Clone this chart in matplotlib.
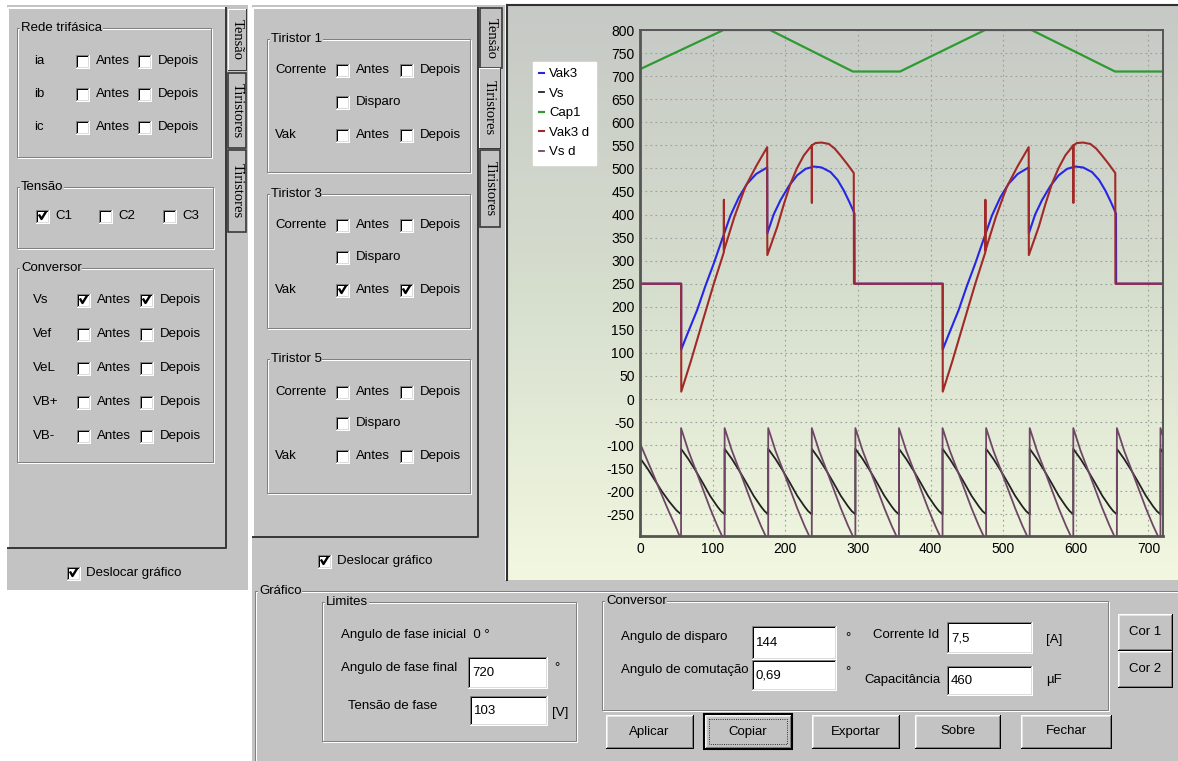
import numpy as np
import matplotlib
matplotlib.use("Agg")
import matplotlib.pyplot as plt
from matplotlib.patches import Rectangle

plt.rcParams['font.family'] = ['Liberation Sans Narrow', 'Liberation Sans', 'DejaVu Sans']
plt.rcParams['axes.unicode_minus'] = False

# ---------------- chart data (angles in degrees, values in V) ----------------
# Cap1 (green)
cap1_ang = [0, 115, 179, 293, 358, 475, 539, 654, 720]
cap1_val = [715, 800, 800, 710, 710, 800, 800, 710, 710]

# one 360 deg cycle of Vak3 (blue) and Vak3 d (red), repeated at cycle_starts
cycle_starts = [0, 360]
vak3_ang = [0, 56.7, 56.7, 65, 78.7, 90, 101.6, 113, 124.6, 136, 147.6, 160, 175.1,
            175.3, 184, 193.4, 205, 216.4, 228, 239.3, 250, 262.3, 272, 280.6, 288,
            295.3, 295.5, 360]
vak3_val = [250, 250, 107, 140, 193, 245, 294, 346, 398, 437, 467, 488, 502,
            359, 400, 431, 462, 485, 499, 504, 502, 492, 475, 452, 428,
            402, 250, 250]
vak3d_ang = [0, 56.7, 56.8, 70, 85, 101.6, 115.4, 115.5, 115.6, 130, 145, 160, 175.1,
             175.3, 182, 188.9, 198, 207.2, 216, 225.5, 236.5, 236.6, 236.7, 241.6, 250,
             260, 268, 276, 285, 294.3, 294.5, 360]
vak3d_val = [250, 250, 16, 82, 162, 250, 318, 432, 322, 395, 460, 505, 546,
             312, 342, 373, 422, 467, 500, 528, 550, 425, 550, 555, 556,
             553, 543, 528, 510, 490, 250, 250]

# Vs / Vs d sawtooth: first partial segment, then one 60 deg profile per reset
first_ang = [0, 10, 20, 30, 40, 50, 56.5]
vs_first = [-128, -150, -175, -200, -222, -241, -250]
vsd_first = [-96, -133, -170, -208, -245, -280, -305]
reset_angles = [56.5, 116.5, 176.5, 236.5, 296.5, 356.5, 416.5, 476.5, 536.5,
                596.5, 656.5, 716.5]
saw_offset = [0, 10, 20, 30, 40, 50, 55, 60]
vs_profile = [-108, -130, -155, -182, -210, -233, -243, -250]
vsd_profile = [-63, -112, -153, -195, -237, -275, -292, -310]

y_ticks = list(range(-250, 801, 50))
x_ticks = [0, 100, 200, 300, 400, 500, 600, 700]


def tile(starts, ang, val):
    xs, ys = [], []
    for s in starts:
        xs += [s + a for a in ang]
        ys += list(val)
    return xs, ys


vak3_x, vak3_y = tile(cycle_starts, vak3_ang, vak3_val)
vak3d_x, vak3d_y = tile(cycle_starts, vak3d_ang, vak3d_val)
vs_x, vs_y = tile(reset_angles, saw_offset, vs_profile)
vsd_x, vsd_y = tile(reset_angles, saw_offset, vsd_profile)
vs_x = first_ang + vs_x
vs_y = vs_first + vs_y
vsd_x = first_ang + vsd_x
vsd_y = vsd_first + vsd_y

# ---------------- window drawing helpers (pixel coordinates) ----------------
W, H = 1178, 761
GRAY = '#c3c3c3'
DARK = '#808080'
SHADOW = '#3a3a3a'
PX = 0.72
FS = 9.5

fig = plt.figure(figsize=(W / 100, H / 100), dpi=100)
fig.patch.set_facecolor('white')
ui = fig.add_axes([0, 0, 1, 1])


def rect(x0, y0, x1, y1, fc, ec='none', lw=0, z=1, **kw):
    ui.add_patch(Rectangle((x0, y0), x1 - x0, y1 - y0, facecolor=fc, edgecolor=ec,
                           linewidth=lw, zorder=z, **kw))


def edge3d(x0, y0, x1, y1, tl, br, z=3, lw=1):
    ui.plot([x0, x0, x1], [y1, y0, y0], color=tl, lw=lw * PX, zorder=z)
    ui.plot([x0, x1, x1], [y1, y1, y0], color=br, lw=lw * PX, zorder=z)


def text(x, y, s, size=FS, ha='left', **kw):
    ui.text(x, y, s, fontsize=size, ha=ha, va='center', zorder=6, **kw)


def group(x0, y0, x1, y1, title):
    rect(x0 + 1, y0 + 1, x1 + 1, y1 + 1, 'none', ec='white', lw=PX, z=1.9)
    rect(x0, y0, x1, y1, 'none', ec=DARK, lw=PX, z=2)
    ui.text(x0 + 4, y0, title, fontsize=FS, ha='left', va='center', zorder=4,
            bbox=dict(fc=GRAY, ec='none', pad=0.4))


def checkbox(x, y, on=False):
    rect(x, y - 6.5, x + 13, y + 6.5, 'white', z=3)
    edge3d(x, y - 6.5, x + 13, y + 6.5, DARK, 'white', z=4)
    edge3d(x + 1, y - 5.5, x + 12, y + 5.5, 'black', '#dcdcdc', z=4)
    if on:
        ui.plot([x + 3.5, x + 5.5, x + 9.5], [y - 0.5, y + 3, y - 3.5],
                color='black', lw=1.7, zorder=5)


def antes_depois(y, xa, xd, on_a=False, on_d=False):
    checkbox(xa, y, on_a)
    text(xa + 20, y, 'Antes')
    checkbox(xd, y, on_d)
    text(xd + 20, y, 'Depois')


def entry(x0, y0, x1, y1, val):
    rect(x0, y0, x1, y1, 'white', z=3)
    edge3d(x0, y0, x1, y1, DARK, 'white', z=4)
    edge3d(x0 + 1, y0 + 1, x1 - 1, y1 - 1, 'black', '#dcdcdc', z=4)
    text(x0 + 4, (y0 + y1) / 2 + 1, val)


def button(x0, y0, x1, y1, label, focus=False):
    rect(x0, y0, x1, y1, GRAY, z=3)
    edge3d(x0, y0, x1, y1, 'white', 'black', z=4)
    edge3d(x0 + 1, y0 + 1, x1 - 1, y1 - 1, '#e4e4e4', DARK, z=4)
    if focus:
        rect(x0 - 1, y0 - 1, x1 + 1, y1 + 1, 'none', ec='black', lw=1.5, z=5)
        rect(x0 + 4, y0 + 4, x1 - 4, y1 - 4, 'none', ec='black', lw=0.6, z=5, ls=':')
    text((x0 + x1) / 2, (y0 + y1) / 2, label, ha='center')


def vtab(x0, y0, x1, y1, label, active=False):
    rect(x0, y0, x1, y1, GRAY, z=3)
    if active:
        edge3d(x0, y0, x1, y1, 'white', SHADOW, z=4)
    else:
        rect(x0, y0, x1, y1, 'none', ec=SHADOW, lw=1.2, z=4)
    ui.text((x0 + x1) / 2, (y0 + y1) / 2, label, rotation=-90, fontsize=10.5,
            family=['Liberation Serif', 'DejaVu Serif'], ha='center', va='center', zorder=6)


# ---------------- panels ----------------
# chart panel gradient
top_c = np.array([198, 201, 197]) / 255
mid_c = np.array([214, 222, 206]) / 255
bot_c = np.array([242, 248, 224]) / 255
t = np.linspace(0, 1, 200)[:, None]
grad = np.where(t < 0.5, top_c + (mid_c - top_c) * (t / 0.5),
                mid_c + (bot_c - mid_c) * ((t - 0.5) / 0.5))
ui.imshow(grad[:, None, :], extent=(507, W, 580, 5), aspect='auto', zorder=0.5)
ui.plot([507, W], [5, 5], color='#303030', lw=1.5, zorder=1)
ui.plot([507, 507], [5, 580], color='#303030', lw=1.5, zorder=1)

# left panel
rect(7, 5, 248, 590, GRAY, z=0.6)
edge3d(8, 8, 226, 548, 'white', SHADOW, z=1, lw=2)
vtab(228, 9, 246, 70, 'Tensão', active=True)
vtab(228, 73, 246, 148, 'Tiristores')
vtab(228, 150, 246, 232, 'Tiristores')

group(17, 28, 211, 157, 'Rede trifásica')
for lbl, y in zip(['ia', 'ib', 'ic'], [61, 94, 127]):
    text(34, y, lbl)
    antes_depois(y, 76, 138)

group(17, 187, 213, 248, 'Tensão')
for (x, lbl, on) in [(36, 'C1', True), (99, 'C2', False), (163, 'C3', False)]:
    checkbox(x, 216, on)
    text(x + 19, 216, lbl)

group(17, 268, 213, 462, 'Conversor')
for i, (lbl, y) in enumerate(zip(['Vs', 'Vef', 'VeL', 'VB+', 'VB-'], [300, 334, 368, 402, 436])):
    text(33, y, lbl)
    antes_depois(y, 77, 140, on_a=(i == 0), on_d=(i == 0))

checkbox(67, 573, True)
text(86, 573, 'Deslocar gráfico')

# middle panel
rect(252, 5, 505, 582, GRAY, z=0.6)
edge3d(253, 8, 478, 537, 'white', SHADOW, z=1, lw=2)
vtab(480, 8, 502, 68, 'Tensão')
vtab(479, 68, 500, 148, 'Tiristores', active=True)
vtab(480, 150, 500, 227, 'Tiristores')

for title, y0, y1, rows, on_vak in [('Tiristor 1', 39, 172, [70, 102, 135], False),
                                    ('Tiristor 3', 194, 328, [225, 257, 290], True),
                                    ('Tiristor 5', 359, 493, [392, 423, 456], False)]:
    group(267, y0, 470, y1, title)
    text(275, rows[0], 'Corrente')
    antes_depois(rows[0], 336, 400)
    checkbox(336, rows[1])
    text(356, rows[1], 'Disparo')
    text(275, rows[2], 'Vak')
    antes_depois(rows[2], 336, 400, on_vak, on_vak)

checkbox(318, 561, True)
text(337, 561, 'Deslocar gráfico')

# bottom panel
rect(252, 580, W, H, GRAY, z=0.6)
group(255, 591, W + 5, H + 5, 'Gráfico')

group(322, 602, 576, 741, 'Limites')
text(341, 635, 'Angulo de fase inicial  0 °')
text(341, 668, 'Angulo de fase final')
entry(468, 657, 547, 688, '720')
text(554, 668, '°')
text(348, 706, 'Tensão de fase')
entry(470, 696, 547, 725, '103')
text(552, 713, '[V]')

group(602, 601, 1108, 710, 'Conversor')
text(621, 637, 'Angulo de disparo')
entry(752, 626, 836, 659, '144')
text(845, 638, '°')
text(621, 670, 'Angulo de comutação')
entry(752, 660, 836, 690, '0,69')
text(845, 672, '°')
text(873, 635, 'Corrente Id')
entry(947, 622, 1032, 653, '7,5')
text(1046, 640, '[A]')
text(864, 680, 'Capacitância')
entry(947, 666, 1032, 695, '460')
text(1046, 680, 'µF')

button(1118, 614, 1172, 650, 'Cor 1')
button(1118, 651, 1172, 687, 'Cor 2')
for x0, x1, lbl in [(606, 693, 'Aplicar'), (705, 791, 'Copiar'), (812, 899, 'Exportar'),
                    (915, 1000, 'Sobre'), (1021, 1111, 'Fechar')]:
    button(x0, 715, x1, 748, lbl, focus=(lbl == 'Copiar'))

ui.set_xlim(0, W)
ui.set_ylim(H, 0)
ui.axis('off')

# ---------------- chart ----------------
ax = fig.add_axes([640 / W, 1 - 536 / H, 523 / W, 506 / H])
ax.set_facecolor('none')
h_vak3, = ax.plot(vak3_x, vak3_y, color='#2626e6', lw=1.5)
h_vs, = ax.plot(vs_x, vs_y, color='#222222', lw=1.3)
h_cap, = ax.plot(cap1_ang, cap1_val, color='#2e9a32', lw=1.6)
h_vak3d, = ax.plot(vak3d_x, vak3d_y, color='#a12a28', lw=1.5)
h_vsd, = ax.plot(vsd_x, vsd_y, color='#6f4766', lw=1.3)

ax.set_xlim(0, 720)
ax.set_ylim(-297, 800)
ax.set_xticks(x_ticks)
ax.set_yticks(y_ticks)
ax.tick_params(length=0, labelsize=10, pad=4)
ax.grid(True, color='#98a098', lw=0.8, linestyle=(0, (1.5, 3)))
for sp in ax.spines.values():
    sp.set_color('#555555')
    sp.set_linewidth(1.4)
ax.spines['left'].set_linewidth(2)
ax.spines['bottom'].set_linewidth(2)

leg = fig.legend([h_vak3, h_vs, h_cap, h_vak3d, h_vsd],
                 ['Vak3', 'Vs', 'Cap1', 'Vak3 d', 'Vs d'],
                 loc='upper left', bbox_to_anchor=(526 / W, 1 - 55 / H),
                 fontsize=9.5, frameon=True, fancybox=False, framealpha=1,
                 edgecolor='white', facecolor='white', handlelength=0.4,
                 handletextpad=0.35, labelspacing=0.55, borderpad=0.5)

fig.savefig('out.png', dpi=100)
